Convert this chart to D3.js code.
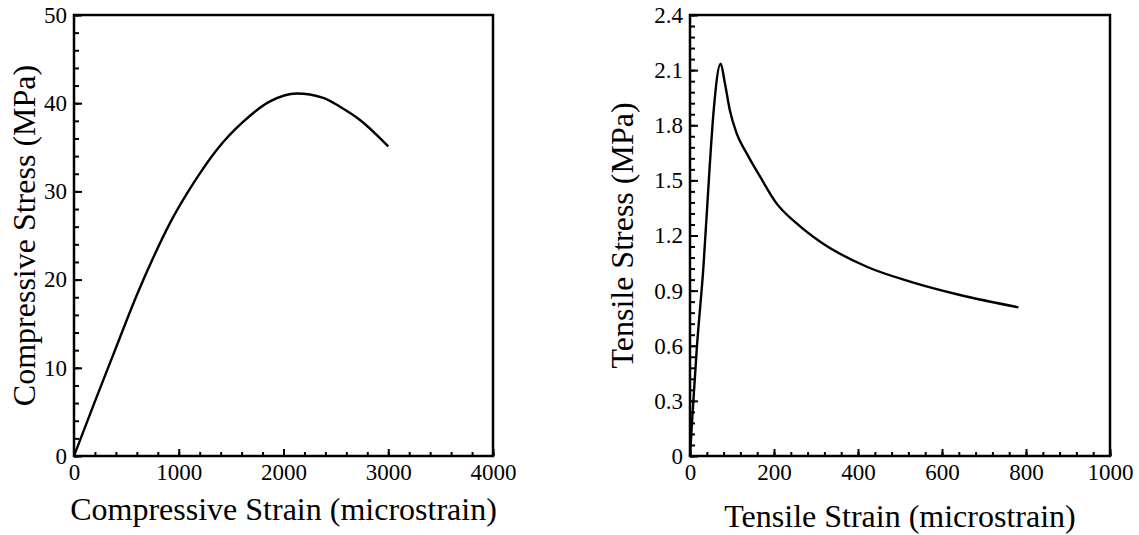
<!DOCTYPE html>
<html>
<head>
<meta charset="utf-8">
<script src="https://cdn.jsdelivr.net/npm/d3@7"></script>
<style>
  body { margin: 0; background: #fff; }
  svg { display: block; }
  text { font-family: "Liberation Serif", "Times New Roman", serif; fill: #000; }
</style>
</head>
<body>
<svg width="1139" height="535"></svg>
<script>
// compressive curve (strain in microstrain, stress in MPa)
const compStrain = [0, 200, 375, 598, 757, 916, 1139, 1362, 1616, 1871, 2126, 2380, 2539, 2730, 3000];
const compStress = [0, 6.2, 11.5, 18.2, 22.5, 26.4, 30.9, 34.7, 37.9, 40.2, 41.1, 40.6, 39.6, 38.1, 35.1];

// tensile curve
const tenStrain = [0, 5.5, 16, 32, 47, 56, 73, 83, 95, 111, 135, 167, 206, 254, 310, 421, 524, 643, 782];
const tenStress = [0, 0.21, 0.58, 1.03, 1.58, 1.87, 2.135, 2.03, 1.88, 1.756, 1.647, 1.52, 1.375, 1.266, 1.166, 1.03, 0.949, 0.876, 0.809];

const compXTicks = [0, 1000, 2000, 3000, 4000];
const compYTicks = [0, 10, 20, 30, 40, 50];
const tenXTicks = [0, 200, 400, 600, 800, 1000];
const tenYTicks = [0, 0.3, 0.6, 0.9, 1.2, 1.5, 1.8, 2.1, 2.4];

const svg = d3.select("svg");
const serif = "Liberation Serif, Times New Roman, serif";

function drawPanel(opt) {
  const x = d3.scaleLinear().domain([0, opt.xMax]).range([opt.left, opt.right]);
  const y = d3.scaleLinear().domain([0, opt.yMax]).range([opt.bottom, opt.top]);
  const g = svg.append("g");

  // minor ticks
  g.append("g")
    .attr("transform", `translate(0,${opt.bottom})`)
    .call(d3.axisBottom(x).tickValues(d3.range(0, opt.xMax + 1e-9, opt.xMinor)).tickSize(-4).tickFormat(""))
    .call(a => a.select(".domain").remove())
    .selectAll("line").attr("stroke-width", 2);
  g.append("g")
    .attr("transform", `translate(${opt.left},0)`)
    .call(d3.axisLeft(y).tickValues(d3.range(0, opt.yMax + 1e-9, opt.yMinor)).tickSize(-5).tickFormat(""))
    .call(a => a.select(".domain").remove())
    .selectAll("line").attr("stroke-width", 2);

  // major ticks and labels
  const xa = g.append("g")
    .attr("transform", `translate(0,${opt.bottom})`)
    .call(d3.axisBottom(x).tickValues(opt.xTicks).tickSize(-7).tickPadding(8).tickFormat(d3.format("")))
    .attr("font-size", 23).attr("font-family", serif);
  xa.select(".domain").remove();
  xa.selectAll("line").attr("stroke-width", 2);

  const ya = g.append("g")
    .attr("transform", `translate(${opt.left},0)`)
    .call(d3.axisLeft(y).tickValues(opt.yTicks).tickSize(-8).tickPadding(7).tickFormat(opt.yFormat))
    .attr("font-size", 23).attr("font-family", serif);
  ya.select(".domain").remove();
  ya.selectAll("line").attr("stroke-width", 2);

  // frame
  g.append("rect")
    .attr("x", opt.left).attr("y", opt.top)
    .attr("width", opt.right - opt.left).attr("height", opt.bottom - opt.top)
    .attr("fill", "none").attr("stroke", "#000").attr("stroke-width", 2.5);

  // curve
  const pts = opt.xs.map((v, i) => [v, opt.ys[i]]);
  g.append("path")
    .datum(pts)
    .attr("fill", "none")
    .attr("stroke", "#000")
    .attr("stroke-width", 2.4)
    .attr("stroke-linejoin", "round")
    .attr("d", d3.line().x(d => x(d[0])).y(d => y(d[1])).curve(d3.curveMonotoneX));

  // titles
  g.append("text")
    .attr("x", (opt.left + opt.right) / 2).attr("y", opt.xTitleY)
    .attr("text-anchor", "middle")
    .attr("font-size", 32)
    .text(opt.xTitle);
  g.append("text")
    .attr("transform", `translate(${opt.yTitleX},${(opt.top + opt.bottom) / 2}) rotate(-90)`)
    .attr("text-anchor", "middle")
    .attr("font-size", 32)
    .text(opt.yTitle);
}

drawPanel({
  left: 74, right: 493, top: 15, bottom: 456,
  xMax: 4000, yMax: 50, xMinor: 200, yMinor: 2,
  xTicks: compXTicks, yTicks: compYTicks,
  yFormat: d3.format(""),
  xs: compStrain, ys: compStress,
  xTitle: "Compressive Strain (microstrain)", xTitleY: 520,
  yTitle: "Compressive Stress (MPa)", yTitleX: 35
});

drawPanel({
  left: 690, right: 1110, top: 15, bottom: 456,
  xMax: 1000, yMax: 2.4, xMinor: 40, yMinor: 0.06,
  xTicks: tenXTicks, yTicks: tenYTicks,
  yFormat: d => d === 0 ? "0" : d3.format(".1f")(d),
  xs: tenStrain, ys: tenStress,
  xTitle: "Tensile Strain (microstrain)", xTitleY: 527,
  yTitle: "Tensile Stress (MPa)", yTitleX: 633
});
</script>
</body>
</html>
